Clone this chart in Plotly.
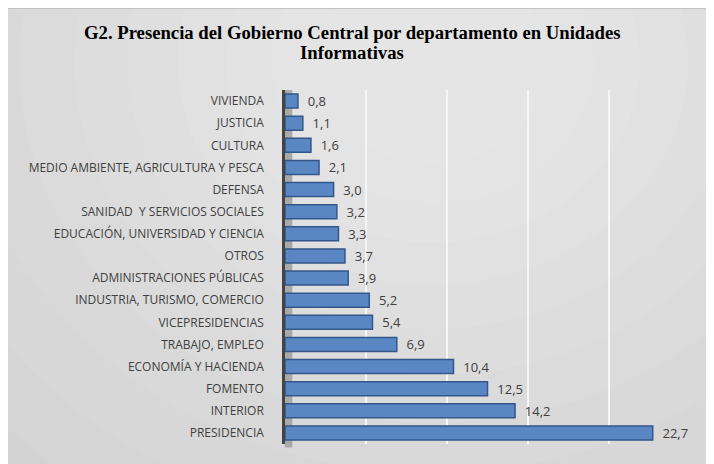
import plotly.graph_objects as go

categories = ["VIVIENDA", "JUSTICIA", "CULTURA", "MEDIO AMBIENTE, AGRICULTURA Y PESCA",
              "DEFENSA", "SANIDAD  Y SERVICIOS SOCIALES", "EDUCACIÓN, UNIVERSIDAD Y CIENCIA",
              "OTROS", "ADMINISTRACIONES PÚBLICAS", "INDUSTRIA, TURISMO, COMERCIO",
              "VICEPRESIDENCIAS", "TRABAJO, EMPLEO", "ECONOMÍA Y HACIENDA", "FOMENTO",
              "INTERIOR", "PRESIDENCIA"]
values = [0.8, 1.1, 1.6, 2.1, 3.0, 3.2, 3.3, 3.7, 3.9, 5.2, 5.4, 6.9, 10.4, 12.5, 14.2, 22.7]
x_ticks = [0, 5, 10, 15, 20, 25]

title_lines = ["G2. Presencia del Gobierno Central por departamento en Unidades",
               "Informativas"]

# figure is offset by the page's default 8px body margin (gives the white frame)
W, H = 714, 464
L, R, T, B = 277, 32, 82, 28
PW, PH = W - L - R, H - T - B


def px_x(p):
    return (p - L) / PW


def px_y(p):
    return 1 - (p - T) / PH


fig = go.Figure()
fig.add_trace(go.Bar(
    y=categories, x=values, orientation="h",
    marker=dict(color="#5a87c4", line=dict(color="#33578a", width=1.5)),
    width=0.63,
    texttemplate="  %{x:.1f}", textposition="outside", constraintext="none",
    textfont=dict(family="Open Sans, sans-serif", size=13, color="#404040"),
    cliponaxis=False,
))

shapes = []
cx, cy = 425, 55
radii = [640, 580, 520, 465, 410, 360, 312, 266, 222, 180, 140, 100]
for r in radii:
    shapes.append(dict(type="circle", xref="paper", yref="paper",
                       x0=px_x(cx - r * 1.15), x1=px_x(cx + r * 1.15),
                       y0=px_y(cy + r), y1=px_y(cy - r),
                       fillcolor="rgba(255,255,255,0.065)", line=dict(width=0), layer="below"))
shapes.append(dict(type="line", xref="paper", yref="paper", x0=px_x(0), x1=px_x(W),
                   y0=px_y(0.5), y1=px_y(0.5), line=dict(color="#c2c2c2", width=1), layer="below"))
# 3D wall next to the vertical axis
shapes.append(dict(type="rect", xref="x", yref="paper", x0=0, x1=0.45, y0=-0.01, y1=1.0,
                   fillcolor="#a9a9a9", line=dict(width=0), layer="below"))

annotations = []
for i, line in enumerate(title_lines):
    annotations.append(dict(text="<b>" + line + "</b>", xref="paper", yref="paper",
                            x=px_x(344), y=px_y(25 + 20 * i), xanchor="center", yanchor="middle",
                            showarrow=False,
                            font=dict(family="Liberation Serif, serif", size=18.7, color="#000000")))

fig.update_layout(
    width=W, height=H,
    separators=",.",
    paper_bgcolor="#cdcdcd",
    plot_bgcolor="rgba(0,0,0,0)",
    margin=dict(l=L, r=R, t=T, b=B),
    showlegend=False,
    xaxis=dict(range=[0, 25], tickvals=x_ticks, showticklabels=False, showgrid=True,
               gridcolor="#f6f6f6", gridwidth=1.5, zeroline=False, showline=False),
    yaxis=dict(categoryorder="array", categoryarray=categories[::-1],
               showline=True, linecolor="#444444", linewidth=2.5,
               ticks="", ticklabelstandoff=16,
               tickfont=dict(family="Open Sans, sans-serif", size=12, color="#404040"),
               showgrid=False),
    shapes=shapes,
    annotations=annotations,
)

fig.write_html("out.html", config={"displayModeBar": False})
